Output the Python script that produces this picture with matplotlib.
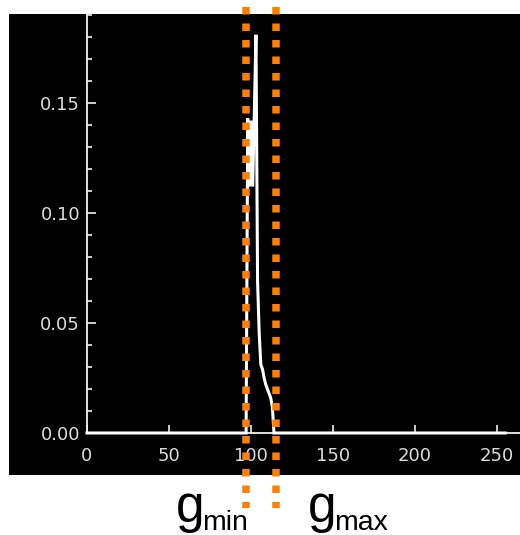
import numpy as np
import matplotlib
matplotlib.use('Agg')
import matplotlib.pyplot as plt
from matplotlib.patches import Rectangle
from matplotlib.ticker import MultipleLocator, FixedLocator, FixedFormatter

# ---------------- data ----------------
grey_levels = np.arange(0, 256)
peak_levels = [97, 98, 99, 100, 101, 102, 103, 104, 105, 106,
               107, 108, 109, 110, 111, 112, 113, 114]
peak_values = [0.000, 0.143, 0.112, 0.142, 0.112, 0.145, 0.181, 0.069, 0.045, 0.031,
               0.029, 0.025, 0.022, 0.020, 0.018, 0.016, 0.012, 0.000]
gmin = 97
gmax = 115
x_ticks = [0, 50, 100, 150, 200, 250]
x_tick_labels = ['0', '50', '100', '150', '200', '250']
y_ticks = [0.00, 0.05, 0.10, 0.15]
y_tick_labels = ['0.00', '0.05', '0.10', '0.15']
x_range = (0, 264)
y_range = (0, 0.19)

hist = np.zeros(len(grey_levels))
for lv, val in zip(peak_levels, peak_values):
    hist[lv] = val

# ---------------- figure ----------------
W, H = 520, 535
fig = plt.figure(figsize=(W / 100, H / 100), dpi=100, facecolor='white')

# black panel behind the plot
fig.patches.append(Rectangle((9 / W, (H - 475) / H), (W - 9) / W, (475 - 14) / H,
                             transform=fig.transFigure, facecolor='black',
                             edgecolor='none', zorder=-5))

ax = fig.add_axes([87 / W, (H - 433) / H, (W - 87) / W, 418 / H])
ax.set_zorder(2)
ax.patch.set_visible(False)

ax.plot(grey_levels, hist, color='white', lw=2.2, solid_joinstyle='miter',
        clip_on=False, zorder=3)

ax.set_xlim(*x_range)
ax.set_ylim(*y_range)

for s in ['top', 'right']:
    ax.spines[s].set_visible(False)
for s in ['left', 'bottom']:
    ax.spines[s].set_color('#f2f2f2')
    ax.spines[s].set_linewidth(1.3)

ax.xaxis.set_major_locator(FixedLocator(x_ticks))
ax.xaxis.set_major_formatter(FixedFormatter(x_tick_labels))
ax.yaxis.set_major_locator(FixedLocator(y_ticks))
ax.yaxis.set_major_formatter(FixedFormatter(y_tick_labels))
ax.yaxis.set_minor_locator(MultipleLocator(0.01))

ax.tick_params(axis='both', which='both', direction='in', colors='#f0f0f0',
               labelcolor='#dcdcdc', labelsize=13, width=1.2)
ax.tick_params(axis='y', which='major', length=6.5, pad=5)
ax.tick_params(axis='y', which='minor', length=3.3)
ax.tick_params(axis='x', which='major', length=5.5, pad=10)

for lab in ax.get_xticklabels() + ax.get_yticklabels():
    lab.set_family('DejaVu Sans')

# orange dotted threshold lines (extend beyond the axes)
top_frac = (433 - 7) / 418
bot_frac = (433 - 508) / 418
for g in (gmin, gmax):
    ax.axvline(g, ymin=top_frac, ymax=bot_frac, color='#ff8000', lw=5.4,
               linestyle=(0, (1.0, 1.2)), dash_capstyle='butt',
               clip_on=False, zorder=5)

# labels g_min and g_max
fig.text(176 / W, (H - 522) / H, 'g', fontsize=37, family='Liberation Sans',
         va='baseline', ha='left', color='black')
fig.text(202 / W, (H - 530) / H, 'min', fontsize=20.5, family='Liberation Sans',
         va='baseline', ha='left', color='black')
fig.text(308 / W, (H - 522) / H, 'g', fontsize=37, family='Liberation Sans',
         va='baseline', ha='left', color='black')
fig.text(334 / W, (H - 530) / H, 'max', fontsize=20.5, family='Liberation Sans',
         va='baseline', ha='left', color='black')

fig.savefig('out.png', dpi=100, facecolor='white')
